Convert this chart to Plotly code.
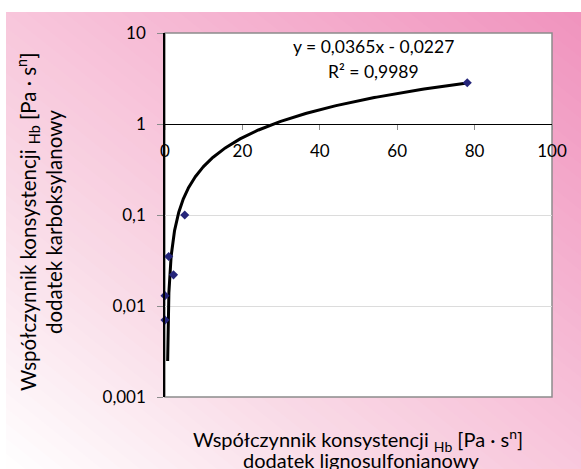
import numpy as np
import plotly.graph_objects as go

# ---- data ----
x_values = [0.0, 0.0, 0.95, 2.2, 5.1, 78.1]
y_values = [0.007, 0.013, 0.035, 0.022, 0.1, 2.84]
trend_slope = 0.0365
trend_intercept = -0.0227
trend_x_start = 0.69
eq_label = "y = 0,0365x - 0,0227"
r2_label = "R² = 0,9989"
y_tickvals = [0.001, 0.01, 0.1, 1, 10]
y_ticktext = ["0,001", "0,01", "0,1", "1", "10"]
x_tickvals = [0, 20, 40, 60, 80, 100]
x_ticktext = ["0", "20", "40", "60", "80", "100"]
y_title_1 = "Współczynnik konsystencji <sub>Hb</sub> [Pa · s<sup>n</sup>]"
y_title_2 = "dodatek karboksylanowy"
x_title_1 = "Współczynnik konsystencji <sub>Hb</sub> [Pa · s<sup>n</sup>]"
x_title_2 = "dodatek lignosulfonianowy"

W, H = 581, 469
ML, MR, MT, MB = 165, 29, 33, 72
PW, PH = W - ML - MR, H - MT - MB
FONT = "Lato"


def px2paper(px, py):
    return ((px - ML) / PW, (H - MB - py) / PH)


# trendline sampled along its fitted equation
tx = np.geomspace(trend_x_start, max(x_values), 400)
ty = trend_slope * tx + trend_intercept

fig = go.Figure()
fig.add_trace(go.Scatter(x=tx, y=ty, mode="lines",
                         line=dict(color="black", width=3),
                         hoverinfo="skip", cliponaxis=False))
fig.add_trace(go.Scatter(x=x_values, y=y_values, mode="markers",
                         marker=dict(symbol="diamond", size=7, color="#25257a"),
                         cliponaxis=False))

# ---- gradient background built from bands ----
stops = [(0.0, (255, 255, 255)), (0.3, (249, 219, 231)),
         (0.5, (248, 198, 219)), (1.0, (240, 147, 190))]


def color_at(t):
    t = min(max(t, 0), 1)
    for (t0, c0), (t1, c1) in zip(stops[:-1], stops[1:]):
        if t <= t1:
            f = (t - t0) / (t1 - t0)
            c = [round(a + (b - a) * f) for a, b in zip(c0, c1)]
            return "rgb(%d,%d,%d)" % tuple(c)
    return "rgb(%d,%d,%d)" % stops[-1][1]


BX0, BX1, BY0, BY1 = 6, W, 12, H   # pixel extent of the pink box


def uv2paper(u, v):
    px = BX0 + u * (BX1 - BX0)
    py = BY1 - v * (BY1 - BY0)
    return px2paper(px, py)


shapes = []
N = 60
L = 2.5
for i in range(N):
    t0 = i / N
    t1 = (i + 1) / N + 0.004
    if i == 0:
        t0 = -1.5
    if i == N - 1:
        t1 = 2.5
    s0, s1 = 2 * t0, 2 * t1
    pts = [(s0 / 2 - L, s0 / 2 + L), (s0 / 2 + L, s0 / 2 - L),
           (s1 / 2 + L, s1 / 2 - L), (s1 / 2 - L, s1 / 2 + L)]
    pp = [uv2paper(u, v) for u, v in pts]
    path = "M " + " L ".join("%.5f %.5f" % p for p in pp) + " Z"
    shapes.append(dict(type="path", path=path, xref="paper", yref="paper",
                       fillcolor=color_at((i + 0.5) / N), line=dict(width=0),
                       layer="below"))

# white strips outside the pink box
x0p, y0p = px2paper(-5, -5)
x1p, y1p = px2paper(W + 5, BY0)
shapes.append(dict(type="rect", xref="paper", yref="paper", x0=x0p, y0=y0p,
                   x1=x1p, y1=y1p, fillcolor="white", line=dict(width=0), layer="below"))
x0p, y0p = px2paper(-5, -5)
x1p, y1p = px2paper(BX0, H + 5)
shapes.append(dict(type="rect", xref="paper", yref="paper", x0=x0p, y0=y0p,
                   x1=x1p, y1=y1p, fillcolor="white", line=dict(width=0), layer="below"))
# plot area
shapes.append(dict(type="rect", xref="paper", yref="paper", x0=0, y0=0, x1=1, y1=1,
                   fillcolor="white", line=dict(color="#8c8c8c", width=1.5), layer="below"))

annotations = []
ax, ay = px2paper(373, 47)
annotations.append(dict(text=eq_label, x=ax, y=ay, xref="paper", yref="paper",
                        showarrow=False, xanchor="center", yanchor="middle",
                        font=dict(size=17.5, color="black", family=FONT)))
ax, ay = px2paper(373, 72)
annotations.append(dict(text=r2_label, x=ax, y=ay, xref="paper", yref="paper",
                        showarrow=False, xanchor="center", yanchor="middle",
                        font=dict(size=17.5, color="black", family=FONT)))
for txt, (px, py), ang, fs in [(y_title_1, (28, 222), -90, 20.5), (y_title_2, (54, 222), -90, 20.5),
                               (x_title_1, (358, 440), 0, 20), (x_title_2, (361, 460), 0, 20)]:
    ax, ay = px2paper(px, py)
    annotations.append(dict(text=txt, x=ax, y=ay, xref="paper", yref="paper",
                            showarrow=False, xanchor="center", yanchor="middle",
                            textangle=ang,
                            font=dict(size=fs, color="black", family=FONT)))

fig.update_layout(
    width=W, height=H,
    margin=dict(l=ML, r=MR, t=MT, b=MB),
    paper_bgcolor="white", plot_bgcolor="white",
    showlegend=False,
    shapes=shapes, annotations=annotations,
    font=dict(family=FONT, size=17, color="black"),
    xaxis=dict(range=[0, 100], anchor="free", position=0.75,
               tickvals=x_tickvals, ticktext=x_ticktext,
               showline=True, linecolor="black", linewidth=1,
               ticks="outside", ticklen=5, tickcolor="#8c8c8c",
               ticklabelstandoff=7,
               showgrid=False, zeroline=False,
               tickfont=dict(size=17, family=FONT, color="black")),
    yaxis=dict(type="log", range=[-3, 1],
               tickvals=y_tickvals, ticktext=y_ticktext,
               showline=True, linecolor="black", linewidth=1.5,
               ticks="outside", ticklen=6, tickcolor="#8c8c8c",
               ticklabelstandoff=8,
               showgrid=True, gridcolor="#dcdcdc", gridwidth=1,
               zeroline=False,
               tickfont=dict(size=17, family=FONT, color="black")),
)

fig.write_html("out.html", config={"displayModeBar": False},
               post_script="document.body.style.margin='0px';document.body.style.padding='0px';")
